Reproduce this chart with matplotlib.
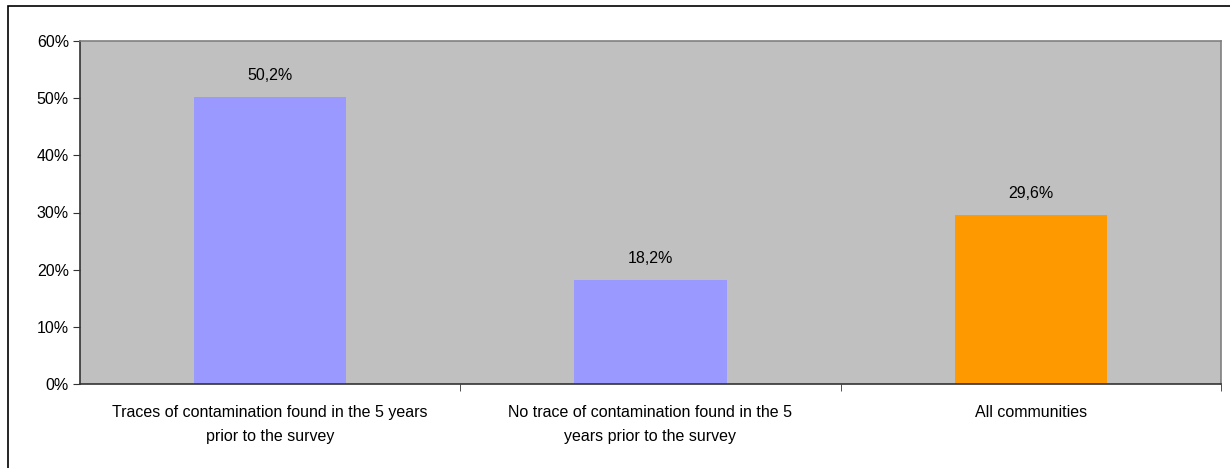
import matplotlib.pyplot as plt
from matplotlib.patches import Rectangle
from matplotlib.ticker import FixedLocator, PercentFormatter

categories = [
    "Traces of contamination found in the 5 years\nprior to the survey",
    "No trace of contamination found in the 5\nyears prior to the survey",
    "All communities",
]
values = [50.2, 18.2, 29.6]
bar_colors = ["#9999FF", "#9999FF", "#FF9900"]

plt.rcParams["font.family"] = "Liberation Sans"

W, H = 1230, 468
fig = plt.figure(figsize=(W / 100, H / 100), dpi=100)
fig.patch.set_facecolor("white")

# outer chart frame (runs off the right and bottom edges)
fig.patches.append(Rectangle((8 / W, -0.1), 1.2, (H - 6) / H + 0.1,
                             transform=fig.transFigure, fill=False,
                             edgecolor="black", linewidth=1.2))

left, right, top, bottom = 80, 1221, 41, 384
ax = fig.add_axes([left / W, 1 - bottom / H, (right - left) / W, (bottom - top) / H])
ax.set_facecolor("#C0C0C0")

x = range(len(categories))
ax.bar(x, values, width=0.4, color=bar_colors, zorder=2)

for xi, v in zip(x, values):
    ax.annotate(f"{v:.1f}%".replace(".", ","), (xi, v), xytext=(0, 10),
                textcoords="offset points", ha="center", va="bottom",
                fontsize=11.5)

ax.set_xlim(-0.5, 2.5)
ax.set_ylim(0, 60)
ax.set_yticks(range(0, 61, 10))
ax.yaxis.set_major_formatter(PercentFormatter(decimals=0))

ax.set_xticks(list(x))
ax.set_xticklabels(categories, fontsize=11.5, linespacing=1.75)
ax.xaxis.set_minor_locator(FixedLocator([0.5, 1.5, 2.5]))
ax.tick_params(axis="x", which="major", length=0, pad=15)
ax.tick_params(axis="x", which="minor", length=5, direction="out", color="#333333")
ax.tick_params(axis="y", length=5, direction="out", color="#333333",
               labelsize=11.5, pad=3)

for side in ("top", "right"):
    ax.spines[side].set_color("#808080")
    ax.spines[side].set_linewidth(1.2)
for side in ("left", "bottom"):
    ax.spines[side].set_color("#333333")
    ax.spines[side].set_linewidth(1.2)

fig.savefig("out.png", dpi=100)
